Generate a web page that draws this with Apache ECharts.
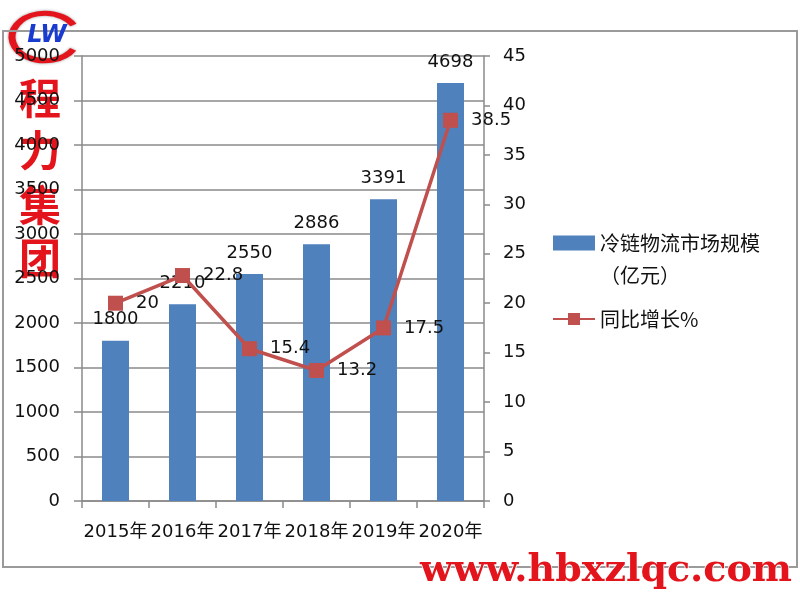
<!DOCTYPE html>
<html>
<head>
<meta charset="utf-8">
<script src="https://cdn.jsdelivr.net/npm/echarts@6/dist/echarts.min.js"></script>
<style>
html,body{margin:0;padding:0;background:#fff;}
#main{width:800px;height:600px;}
</style>
</head>
<body>
<div id="main"></div>
<script>
var categories = ['2015年', '2016年', '2017年', '2018年', '2019年', '2020年'];
var marketSize = [1800, 2210, 2550, 2886, 3391, 4698];
var growthRate = [20, 22.8, 15.4, 13.2, 17.5, 38.5];
var barName = '冷链物流市场规模（亿元）';
var lineName = '同比增长%';

var numFont = 'DejaVu Sans, Noto Sans CJK SC, sans-serif';
var cjkFont = 'Noto Sans CJK SC, DejaVu Sans, sans-serif';
var axisGray = '#8a8a8a';

var chart = echarts.init(document.getElementById('main'), null, {renderer: 'canvas'});
var option = {
  backgroundColor: '#ffffff',
  animation: false,
  grid: {left: 82, right: 316, top: 56, bottom: 99, containLabel: false},
  legend: {
    orient: 'vertical',
    left: 552,
    top: 201,
    padding: 0,
    itemGap: 24,
    itemWidth: 42,
    itemHeight: 15,
    formatter: function (name) {
      if (name === barName) {
        return '{e| }\n{a|冷链物流市场规模}\n{a|（亿元）}';
      }
      return '{a|' + name + '}';
    },
    textStyle: {
      fontFamily: cjkFont,
      fontSize: 20,
      color: '#111',
      rich: {
        e: {fontSize: 20, lineHeight: 32, fontFamily: cjkFont},
        a: {fontSize: 20, lineHeight: 32, fontFamily: cjkFont, color: '#111'}
      }
    },
    data: [{name: barName, icon: 'rect'}, {name: lineName}]
  },
  xAxis: {
    type: 'category',
    data: categories,
    boundaryGap: true,
    axisLine: {show: true, lineStyle: {color: axisGray, width: 1.5}},
    axisTick: {show: true, length: 7, alignWithLabel: false, lineStyle: {color: axisGray, width: 1.5}},
    axisLabel: {interval: 0, margin: 22, fontSize: 18, fontFamily: numFont, color: '#111'},
    splitLine: {show: false}
  },
  yAxis: [
    {
      type: 'value',
      min: 0, max: 5000, interval: 500,
      position: 'left',
      axisLine: {show: true, lineStyle: {color: axisGray, width: 1.5}},
      axisTick: {show: true, inside: false, length: 8, lineStyle: {color: axisGray, width: 1.5}},
      axisLabel: {margin: 22, fontSize: 18, fontFamily: numFont, color: '#111', formatter: function (v) { return String(v); }},
      splitLine: {show: true, lineStyle: {color: axisGray, width: 1.5}}
    },
    {
      type: 'value',
      min: 0, max: 45, interval: 5,
      position: 'right',
      axisLine: {show: true, lineStyle: {color: axisGray, width: 1.5}},
      axisTick: {show: true, inside: false, length: 6, lineStyle: {color: axisGray, width: 1.5}},
      axisLabel: {margin: 19, fontSize: 18, fontFamily: numFont, color: '#111', formatter: function (v) { return String(v); }},
      splitLine: {show: false}
    }
  ],
  series: [
    {
      name: barName,
      type: 'bar',
      yAxisIndex: 0,
      data: marketSize,
      barWidth: 27,
      itemStyle: {color: '#4F81BD'},
      label: {show: true, position: 'top', distance: 12, fontSize: 18, fontFamily: numFont, color: '#111'},
      z: 2
    },
    {
      name: lineName,
      type: 'line',
      yAxisIndex: 1,
      data: growthRate,
      symbol: 'rect',
      symbolSize: 15,
      lineStyle: {color: '#C0504D', width: 3.5},
      itemStyle: {color: '#C0504D'},
      label: {show: true, position: 'right', distance: 13, fontSize: 18, fontFamily: numFont, color: '#111'},
      z: 3
    }
  ],
  graphic: [
    {
      type: 'rect',
      shape: {x: 3, y: 31, width: 794, height: 536},
      style: {fill: 'none', stroke: '#9a9a9a', lineWidth: 2},
      z: 1, silent: true
    },
    {
      type: 'group',
      x: 45, y: 37,
      scaleY: 0.72,
      z: 100,
      children: [
        {type: 'circle', shape: {cx: 0, cy: 0, r: 36}, style: {fill: '#ffffff'}},
        {type: 'arc', shape: {cx: 0, cy: 0, r: 33, startAngle: 0.55, endAngle: 5.75, clockwise: true},
          style: {stroke: '#e3141c', lineWidth: 7, fill: 'none', shadowBlur: 3, shadowColor: 'rgba(0,0,0,0.4)'}}
      ]
    },
    {
      type: 'text', x: 47, y: 36, z: 101,
      style: {text: 'LW', fontSize: 24, fontStyle: 'italic', fontWeight: 'bold', fontFamily: 'DejaVu Sans', fill: '#1a3bd0', align: 'center', verticalAlign: 'middle'}
    },
    {
      type: 'group', z: 100,
      children: [
        {type: 'text', x: 40, y: 98, style: {text: '程', fontSize: 42, fontWeight: 'bold', fontFamily: cjkFont, fill: '#e3141c', stroke: '#ffffff', lineWidth: 1.5, align: 'center', verticalAlign: 'middle', shadowBlur: 2, shadowColor: 'rgba(0,0,0,0.5)'}},
        {type: 'text', x: 40, y: 150, style: {text: '力', fontSize: 42, fontWeight: 'bold', fontFamily: cjkFont, fill: '#e3141c', stroke: '#ffffff', lineWidth: 1.5, align: 'center', verticalAlign: 'middle', shadowBlur: 2, shadowColor: 'rgba(0,0,0,0.5)'}},
        {type: 'text', x: 40, y: 205, style: {text: '集', fontSize: 42, fontWeight: 'bold', fontFamily: cjkFont, fill: '#e3141c', stroke: '#ffffff', lineWidth: 1.5, align: 'center', verticalAlign: 'middle', shadowBlur: 2, shadowColor: 'rgba(0,0,0,0.5)'}},
        {type: 'text', x: 40, y: 258, style: {text: '团', fontSize: 42, fontWeight: 'bold', fontFamily: cjkFont, fill: '#e3141c', stroke: '#ffffff', lineWidth: 1.5, align: 'center', verticalAlign: 'middle', shadowBlur: 2, shadowColor: 'rgba(0,0,0,0.5)'}}
      ]
    },
    {
      type: 'text', x: 606, y: 571, z: 100,
      style: {text: 'www.hbxzlqc.com', fontSize: 38, fontWeight: 'bold', fontFamily: 'DejaVu Serif, Liberation Serif, serif', fill: '#e3141c', stroke: '#ffffff', lineWidth: 1.5, align: 'center', verticalAlign: 'middle', shadowBlur: 2, shadowColor: 'rgba(180,0,0,0.6)'}
    }
  ]
};
chart.setOption(option);
</script>
</body>
</html>
